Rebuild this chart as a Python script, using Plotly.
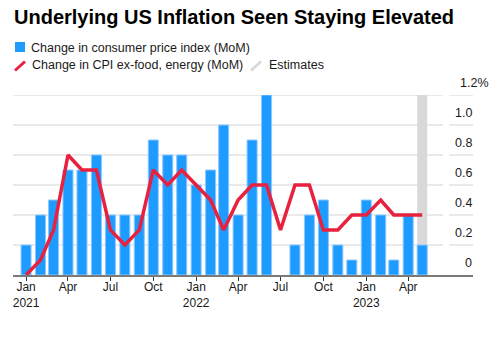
import pandas as pd
import plotly.graph_objects as go

# Monthly data, Jan 2021 - May 2023 (May 2023 is an estimate)
months = pd.date_range("2021-01-01", "2023-05-01", freq="MS")
cpi_mom = [0.2, 0.4, 0.5, 0.7, 0.7, 0.8, 0.4, 0.4, 0.4, 0.9, 0.8, 0.8,
           0.6, 0.7, 1.0, 0.4, 0.9, 1.2, 0.0, 0.2, 0.4, 0.5, 0.2, 0.1,
           0.5, 0.4, 0.1, 0.4, 0.2]
core_mom = [0.0, 0.1, 0.3, 0.8, 0.7, 0.7, 0.3, 0.2, 0.3, 0.7, 0.6, 0.7,
            0.6, 0.5, 0.3, 0.5, 0.6, 0.6, 0.3, 0.6, 0.6, 0.3, 0.3, 0.4,
            0.4, 0.5, 0.4, 0.4, 0.4]
estimate_months = ["2023-05-01"]
estimate_top = [1.2]

y_ticks = [0, 0.2, 0.4, 0.6, 0.8, 1.0, 1.2]
y_tick_text = ["0", "0.2", "0.4", "0.6", "0.8", "1.0", "1.2%"]
x_ticks = pd.date_range("2021-01-01", "2023-04-01", freq="QS")
x_tick_text = ["Jan<br>2021", "Apr", "Jul", "Oct", "Jan<br>2022", "Apr", "Jul",
               "Oct", "Jan<br>2023", "Apr"]

BLUE = "#1d9bff"
RED = "#e8213f"
GREY = "#d9d9d9"
TEXT = "#1a1a1a"
FONT = "Liberation Sans, Arial, sans-serif"
DAY_MS = 86400000
bar_w = 21.5 * DAY_MS

W, H = 496, 342
ML, MR, MT, MB = 13, 23, 95, 67
PW = W - ML - MR


def px(x):
    return (x - ML) / PW


def py(y):
    return (H - MB - y) / (H - MT - MB)


fig = go.Figure()

fig.add_trace(go.Bar(
    x=pd.to_datetime(estimate_months), y=estimate_top, width=[bar_w],
    marker=dict(color=GREY, line=dict(width=0)), showlegend=False,
    hoverinfo="skip"))

fig.add_trace(go.Bar(
    x=months, y=cpi_mom, width=[bar_w] * len(months),
    marker=dict(color=BLUE,
                line=dict(color="#8cc8ff",
                          width=[1 if v > 0 else 0 for v in cpi_mom])),
    name="Change in consumer price index (MoM)", showlegend=False))

fig.add_trace(go.Scatter(
    x=months, y=core_mom, mode="lines",
    line=dict(color=RED, width=3.5),
    name="Change in CPI ex-food, energy (MoM)", showlegend=False))

# Horizontal gridlines, broken just before the value labels
split_a = px(443)
split_b = px(449)
shapes = []
for v in y_ticks[1:]:
    for x0, x1 in ((0, split_a), (split_b, 1)):
        shapes.append(dict(type="line", xref="paper", yref="y", x0=x0, x1=x1,
                           y0=v, y1=v, layer="below",
                           line=dict(color="#e3e3e3", width=1.5)))

# Legend keys
shapes.append(dict(type="rect", xref="paper", yref="paper",
                   x0=px(15), x1=px(25), y0=py(52), y1=py(42),
                   fillcolor=BLUE, line=dict(width=0)))
shapes.append(dict(type="line", xref="paper", yref="paper",
                   x0=px(15), x1=px(25), y0=py(70.5), y1=py(61.5),
                   line=dict(color=RED, width=3)))
shapes.append(dict(type="line", xref="paper", yref="paper",
                   x0=px(251), x1=px(261), y0=py(70.5), y1=py(61.5),
                   line=dict(color=GREY, width=3)))

annotations = [
    dict(text="<b>Underlying US Inflation Seen Staying Elevated</b>",
         xref="paper", yref="paper", x=px(12), y=py(17),
         xanchor="left", yanchor="middle", showarrow=False,
         font=dict(family=FONT, size=20, color="#000000")),
    dict(text="Change in consumer price index (MoM)", xref="paper", yref="paper",
         x=px(29), y=py(47.5), xanchor="left", yanchor="middle", showarrow=False,
         font=dict(family=FONT, size=12.5, color=TEXT)),
    dict(text="Change in CPI ex-food, energy (MoM)", xref="paper", yref="paper",
         x=px(30), y=py(65.5), xanchor="left", yanchor="middle", showarrow=False,
         font=dict(family=FONT, size=12.5, color=TEXT)),
    dict(text="Estimates", xref="paper", yref="paper",
         x=px(267), y=py(65.5), xanchor="left", yanchor="middle", showarrow=False,
         font=dict(family=FONT, size=12.5, color=TEXT)),
]

# Value labels sit just above their gridlines on the right
for v, t in zip(y_ticks, y_tick_text):
    pct = t.endswith("%")
    annotations.append(dict(
        text=t, xref="paper", yref="y", x=px(458) if pct else px(474), y=v,
        xanchor="left" if pct else "right", yanchor="middle", yshift=12.5,
        showarrow=False, font=dict(family=FONT, size=12.5, color=TEXT)))

fig.update_layout(
    width=W, height=H,
    margin=dict(l=ML, r=MR, t=MT, b=MB),
    paper_bgcolor="white", plot_bgcolor="white",
    barmode="overlay", showlegend=False,
    shapes=shapes, annotations=annotations,
    font=dict(family=FONT, size=12, color=TEXT),
)

fig.update_xaxes(
    type="date", range=["2020-12-04", "2023-08-18"],
    tickvals=x_ticks, ticktext=x_tick_text,
    showgrid=False, zeroline=False,
    showline=True, linecolor="#7a7a7a", linewidth=1.5,
    ticks="outside", ticklen=4, tickwidth=1, tickcolor="#333333",
    ticklabelstandoff=-4,
    tickfont=dict(family=FONT, size=12, color=TEXT),
)

fig.update_yaxes(
    range=[0, 1.2], side="right",
    showticklabels=False,
    showgrid=False, zeroline=False, showline=False, ticks="",
)

fig.write_html("out.html")
